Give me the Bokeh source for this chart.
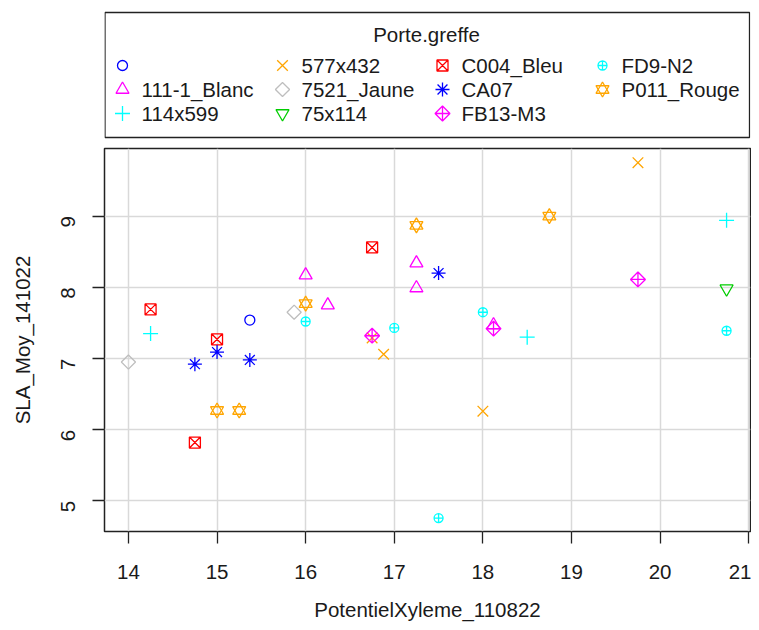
import math
from bokeh.plotting import figure
from bokeh.models import Range1d, FixedTicker
from bokeh.layouts import column
from bokeh.embed import file_html
from bokeh.resources import INLINE
from bokeh.core.properties import value

# ---------------- data ----------------
categories = ["", "111-1_Blanc", "114x599", "577x432", "7521_Jaune", "75x114",
              "C004_Bleu", "CA07", "FB13-M3", "FD9-N2", "P011_Rouge"]

x_blank = [15.37]
y_blank = [7.54]
x_blanc = [16.0, 16.25, 17.25, 17.25, 18.12]
y_blanc = [8.17, 7.75, 8.34, 7.99, 7.47]
x_114 = [14.25, 18.5, 20.75]
y_114 = [7.35, 7.30, 8.94]
x_577 = [16.75, 16.88, 18.0, 19.75]
y_577 = [7.29, 7.06, 6.26, 9.75]
x_7521 = [14.0, 15.87]
y_7521 = [6.95, 7.65]
x_75 = [20.75]
y_75 = [7.98]
x_c004 = [14.25, 14.75, 15.0, 16.75]
y_c004 = [7.69, 5.82, 7.27, 8.56]
x_ca07 = [14.75, 15.0, 15.37, 17.5]
y_ca07 = [6.92, 7.09, 6.98, 8.20]
x_fb13 = [16.75, 18.12, 19.75]
y_fb13 = [7.32, 7.42, 8.11]
x_fd9 = [16.0, 17.0, 18.0, 17.5, 20.75]
y_fd9 = [7.52, 7.43, 7.65, 4.76, 7.39]
x_p011 = [15.0, 15.25, 16.0, 17.25, 18.75]
y_p011 = [6.27, 6.27, 7.77, 8.87, 9.00]

x_series = [x_blank, x_blanc, x_114, x_577, x_7521, x_75, x_c004, x_ca07, x_fb13, x_fd9, x_p011]
y_series = [y_blank, y_blanc, y_114, y_577, y_7521, y_75, y_c004, y_ca07, y_fb13, y_fd9, y_p011]

x_ticks = [14, 15, 16, 17, 18, 19, 20, 21]
y_ticks = [5, 6, 7, 8, 9]
legend_title = "Porte.greffe"
x_label = "PotentielXyleme_110822"
y_label = "SLA_Moy_141022"

# ---------------- styles ----------------
colors = ["#0000FF", "#FF00FF", "#00FFFF", "#FFA500", "#BEBEBE", "#00CD00",
          "#FF0000", "#0000FF", "#FF00FF", "#00FFFF", "#FFA500"]
# each: list of (marker, size, angle)
marker_layers = [
    [("circle", 10, 0)],
    [("triangle", 13, 0)],
    [("cross", 15, 0)],
    [("x", 15, 0)],
    [("square", 10, math.pi / 4)],
    [("inverted_triangle", 13, 0)],
    [("square_x", 11, 0)],
    [("asterisk", 14, 0)],
    [("square_x", 10.5, math.pi / 4)],
    [("circle_cross", 9, 0)],
    [("triangle", 13, 0), ("inverted_triangle", 13, 0)],
]
LW = 1.3
FONT = "Liberation Sans"
FS = "20.5px"
TXT = "#1a1a1a"

# ---------------- main plot ----------------
p = figure(width=751, height=489,
           x_range=Range1d(13.73, 21.02), y_range=Range1d(4.571, 9.949),
           output_backend="svg", toolbar_location=None,
           min_border_left=104, min_border_right=1,
           min_border_top=8, min_border_bottom=98)
p.background_fill_color = "white"
p.border_fill_color = "white"
p.outline_line_color = "#222222"
p.outline_line_width = 1.5

p.xaxis.ticker = FixedTicker(ticks=x_ticks)
p.yaxis.ticker = FixedTicker(ticks=y_ticks)
p.xgrid.ticker = FixedTicker(ticks=x_ticks)
p.ygrid.ticker = FixedTicker(ticks=y_ticks)
p.grid.grid_line_color = "#D9D9D9"
p.grid.grid_line_width = 1.5

for ax in (p.xaxis, p.yaxis):
    ax.axis_line_color = None
    ax.major_tick_line_color = "#222222"
    ax.major_tick_line_width = 1.3
    ax.major_tick_out = 12
    ax.major_tick_in = 0
    ax.minor_tick_line_color = None
    ax.major_label_text_font = FONT
    ax.major_label_text_font_size = FS
    ax.major_label_text_color = TXT
    ax.axis_label_text_font = FONT
    ax.axis_label_text_font_size = FS
    ax.axis_label_text_font_style = "normal"
    ax.axis_label_text_color = TXT

p.xaxis.axis_label = x_label
p.yaxis.axis_label = y_label
p.xaxis.major_label_standoff = 21
p.xaxis.axis_label_standoff = 16
p.yaxis.major_label_orientation = math.pi / 2
p.yaxis.major_label_standoff = 24
p.yaxis.axis_label_standoff = 18

for xs, ys, col, layers in zip(x_series, y_series, colors, marker_layers):
    for mk, sz, ang in layers:
        p.scatter(xs, ys, marker=mk, size=sz, angle=ang,
                  line_color=col, fill_color=None, line_width=LW)

# ---------------- legend (drawn in its own panel, pixel-like units) ----------------
lf = figure(width=751, height=140, x_range=Range1d(104, 750), y_range=Range1d(140, 0),
            output_backend="svg", toolbar_location=None,
            min_border_left=104, min_border_right=1, min_border_top=0, min_border_bottom=0)
lf.axis.visible = False
lf.grid.visible = False
lf.outline_line_color = None
lf.background_fill_color = "white"
lf.border_fill_color = "white"

lf.quad(left=[104.5], right=[749], top=[12], bottom=[137], fill_color=None,
        line_color="#222222", line_width=1.3)
lf.text(x=[426], y=[34], text=[legend_title], text_align="center",
        text_baseline="middle", text_font=value(FONT), text_font_size=FS,
        text_color=TXT)

col_marker_x = [122, 282, 442, 602]
col_text_x = [141, 301, 461, 621]
row_y = [65, 89, 113]
for i, (name, col, layers) in enumerate(zip(categories, colors, marker_layers)):
    c, r = divmod(i, 3)
    for mk, sz, ang in layers:
        lf.scatter([col_marker_x[c]], [row_y[r]], marker=mk, size=sz, angle=-ang,
                   line_color=col, fill_color=None, line_width=LW)
    lf.text(x=[col_text_x[c]], y=[row_y[r]], text=[name], text_align="left",
            text_baseline="middle", text_font=value(FONT), text_font_size=FS,
            text_color=TXT)

layout = column(lf, p, spacing=0)
open("out.html", "w").write(file_html(layout, INLINE))
